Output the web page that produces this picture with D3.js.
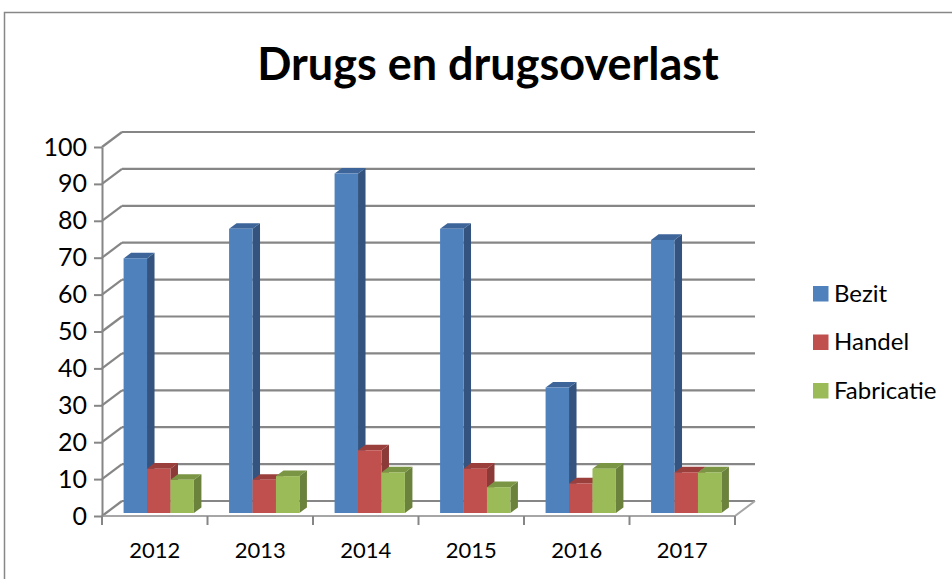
<!DOCTYPE html>
<html>
<head>
<meta charset="utf-8">
<script src="https://cdn.jsdelivr.net/npm/d3@7"></script>
<style>
  body { margin: 0; background: #fff; }
  svg text { font-family: Lato, "Open Sans", sans-serif; fill: #000; }
</style>
</head>
<body>
<svg id="chart" width="952" height="579"></svg>
<script>
const years = ["2012", "2013", "2014", "2015", "2016", "2017"];
const series = ["Bezit", "Handel", "Fabricatie"];
const bezit = [69, 77, 92, 77, 34, 74];
const handel = [12, 9, 17, 12, 8, 11];
const fabricatie = [9, 10, 11, 7, 12, 11];
const yTicks = [0, 10, 20, 30, 40, 50, 60, 70, 80, 90, 100];

const colors = {
  Bezit: { front: "#4f81bd", side: "#34547f", top: "#3d659a" },
  Handel: { front: "#c0504d", side: "#8c3a38", top: "#9b3f3c" },
  Fabricatie: { front: "#9bbb59", side: "#6b823c", top: "#7a9544" }
};

const values = { Bezit: bezit, Handel: handel, Fabricatie: fabricatie };

// depth of the 3d box (oblique offset)
const depthX = 20, depthY = -15;
const barF0 = 0.2, barF1 = 0.575;

const svg = d3.select("#chart");

// outer frame
svg.append("rect")
  .attr("x", 4.5).attr("y", 12.5)
  .attr("width", 960).attr("height", 600)
  .attr("fill", "none").attr("stroke", "#878787").attr("stroke-width", 1.5);

const x = d3.scaleBand().domain(years).range([102, 735]);
const x1 = d3.scaleBand().domain(series).range([0, x.bandwidth()]).paddingInner(0).paddingOuter(0.75);
const y = d3.scaleLinear().domain([0, 100]).range([516, 147]);

const proj = (px, py, f) => [px + depthX * f, py + depthY * f];

const grid = svg.append("g");

// back wall gridlines
grid.selectAll("line.back").data(yTicks).join("line")
  .attr("class", "back")
  .attr("x1", x.range()[0] + depthX).attr("x2", x.range()[1] + depthX)
  .attr("y1", d => y(d) + depthY).attr("y2", d => y(d) + depthY)
  .attr("stroke", "#868686").attr("stroke-width", 2.2);

// side wall diagonals
grid.selectAll("line.side").data(yTicks).join("line")
  .attr("class", "side")
  .attr("x1", x.range()[0]).attr("x2", x.range()[0] + depthX)
  .attr("y1", d => y(d)).attr("y2", d => y(d) + depthY)
  .attr("stroke", "#868686").attr("stroke-width", 2.2);

// floor front edge + right edge
grid.append("line")
  .attr("x1", x.range()[0]).attr("x2", x.range()[1])
  .attr("y1", y(0)).attr("y2", y(0))
  .attr("stroke", "#a6a6a6").attr("stroke-width", 2);
grid.append("line")
  .attr("x1", x.range()[1]).attr("x2", x.range()[1] + depthX)
  .attr("y1", y(0)).attr("y2", y(0) + depthY)
  .attr("stroke", "#a6a6a6").attr("stroke-width", 2);

// y axis
const yAxis = svg.append("g")
  .attr("transform", `translate(${x.range()[0]},0)`)
  .call(d3.axisLeft(y).tickValues(yTicks).tickSize(8).tickSizeOuter(0).tickPadding(7));
yAxis.select(".domain").attr("stroke", "#868686").attr("stroke-width", 2);
yAxis.selectAll(".tick line").attr("stroke", "#868686").attr("stroke-width", 2);
yAxis.selectAll("text").attr("font-size", 25).attr("font-family", "Lato");

// x axis
const xAxis = svg.append("g")
  .attr("transform", `translate(0,${y(0)})`)
  .call(d3.axisBottom(x).tickSize(0).tickPadding(26));
xAxis.select(".domain").remove();
xAxis.selectAll("text").attr("font-size", 22).attr("font-family", "Lato");

const bounds = [x(years[0])].concat(years.map(d => x(d) + x.bandwidth()));
svg.append("g").selectAll("line").data(bounds).join("line")
  .attr("x1", d => d).attr("x2", d => d)
  .attr("y1", y(0)).attr("y2", y(0) + 9)
  .attr("stroke", "#868686").attr("stroke-width", 2);

// bars
const barData = [];
years.forEach((yr, i) => {
  series.forEach(s => barData.push({ year: yr, series: s, value: values[s][i] }));
});

const bars = svg.append("g").selectAll("g").data(barData).join("g");

bars.each(function(d) {
  const g = d3.select(this);
  const bx0 = x(d.year) + x1(d.series);
  const bx1 = bx0 + x1.bandwidth();
  const c = colors[d.series];
  const [fx0, fyb] = proj(bx0, y(0), barF0);
  const [fx1, fyt] = proj(bx1, y(d.value), barF0);
  const [kx0] = proj(bx0, y(d.value), barF1);
  const [kx1, kyt] = proj(bx1, y(d.value), barF1);
  const [, kyb] = proj(bx1, y(0), barF1);

  // side face
  g.append("path")
    .attr("d", `M${fx1},${fyt}L${kx1},${kyt}L${kx1},${kyb}L${fx1},${fyb}Z`)
    .attr("fill", c.side);
  // top face
  g.append("path")
    .attr("d", `M${fx0},${fyt}L${kx0},${kyt}L${kx1},${kyt}L${fx1},${fyt}Z`)
    .attr("fill", c.top);
  // front face
  g.append("rect")
    .attr("x", fx0).attr("y", fyt)
    .attr("width", fx1 - fx0).attr("height", fyb - fyt)
    .attr("fill", c.front);
});

// title
svg.append("text")
  .attr("x", 488).attr("y", 80)
  .attr("text-anchor", "middle")
  .attr("font-size", 45).attr("font-weight", "bold")
  .text("Drugs en drugsoverlast");

// legend
const legend = svg.append("g").selectAll("g").data(series).join("g")
  .attr("transform", (d, i) => `translate(813,${286 + i * 48.5})`);
legend.append("rect")
  .attr("width", 15.5).attr("height", 15.5)
  .attr("fill", d => colors[d].front);
legend.append("text")
  .attr("x", 21).attr("y", 15.5)
  .attr("font-size", 24)
  .text(d => d);
</script>
</body>
</html>
